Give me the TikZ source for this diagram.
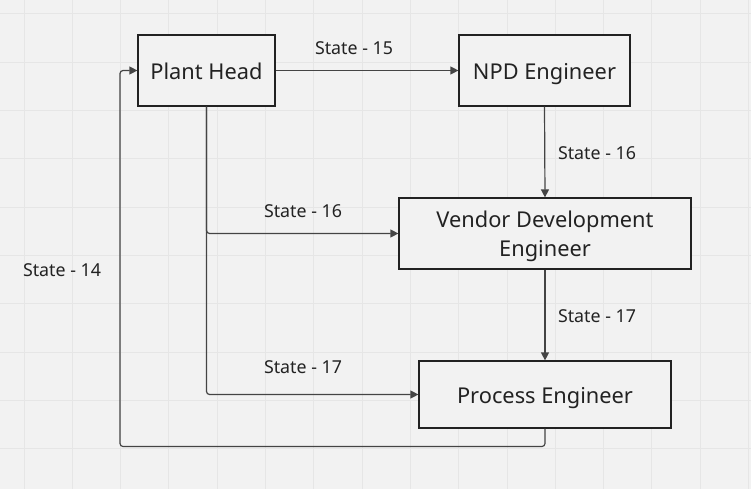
\documentclass[tikz,border=0pt]{standalone}
\usepackage{fontspec}
\setmainfont{Noto Sans}
\usetikzlibrary{arrows.meta}
\definecolor{bgc}{HTML}{F2F2F2}
\definecolor{gridc}{HTML}{E6E6E6}
\definecolor{linec}{HTML}{444444}
\definecolor{boxc}{HTML}{222222}
\definecolor{txtc}{HTML}{222222}
\tikzset{
  procbox/.style={draw=boxc, line width=1.2pt, fill=bgc, inner sep=0pt, align=center,
    text=txtc, font=\fontsize{21.8}{29}\selectfont, text height=18pt, text depth=0pt},
  conn/.style={draw=linec, line width=1.2pt, rounded corners=3pt,
    -{Triangle[length=8pt,width=8pt]}},
  lbl/.style={text=txtc, font=\fontsize{17.8}{20}\selectfont, inner sep=0pt},
}
\begin{document}
\begin{tikzpicture}[x=1pt,y=-1pt]
\fill[bgc] (0,0) rectangle (751,489);
\useasboundingbox (0,0) rectangle (751,489);
\foreach \i in {0,...,15} {
  \draw[gridc, line width=1pt] ({24+48.3*\i},0) -- ({24+48.3*\i},489);
}
\foreach \j in {0,...,10} {
  \draw[gridc, line width=1pt] (0,{14+48.3*\j}) -- (751,{14+48.3*\j});
}
\node[procbox, minimum width=137pt, minimum height=71pt] (ph) at (206.5,70.5) {Plant Head};
\node[procbox, minimum width=171pt, minimum height=71pt] (npd) at (544.5,70.5) {NPD Engineer};
\node[procbox, minimum width=292pt, minimum height=71pt, text height=46.4pt] (vde) at (545,233.5) {Vendor Development\\Engineer};
\node[procbox, minimum width=252pt, minimum height=67pt] (pe) at (545,394.5) {Process Engineer};

\coordinate (c1) at (545,446.5);
\coordinate (c2) at (120,446.5);
\coordinate (c3) at (120,70.5);

\draw[conn] (ph.east) -- (npd.west);
\draw[conn] (npd.south) -- (vde.north);
\draw[conn] (ph.south) |- (vde.west);
\draw[conn] (ph.south) |- (pe.west);
\draw[conn] (vde.south) -- (pe.north);
\draw[conn] (pe.south) -- (c1) -- (c2) -- (c3) -- (ph.west);

\node[lbl] (l15) at (354,48) {State - 15};
\node[lbl] (l16a) at (597,153) {State - 16};
\node[lbl] (l16b) at (303,211) {State - 16};
\node[lbl] (l14) at (62,270) {State - 14};
\node[lbl] (l17a) at (597,316) {State - 17};
\node[lbl] (l17b) at (303,367) {State - 17};
\end{tikzpicture}
\end{document}
